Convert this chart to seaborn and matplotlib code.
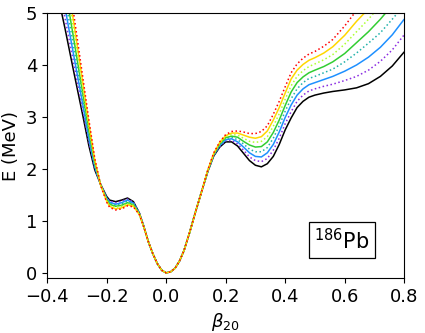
import numpy as np
import pandas as pd
import matplotlib
matplotlib.use("Agg")
import matplotlib.pyplot as plt
import seaborn as sns

# deformation grid
beta = [-0.40, -0.37, -0.34, -0.31, -0.28, -0.26, -0.24, -0.22, -0.20, -0.19,
        -0.17, -0.15, -0.13, -0.11, -0.09, -0.075, -0.06, -0.045, -0.03, -0.015,
        0.00, 0.015, 0.03, 0.045, 0.06, 0.08, 0.10, 0.12, 0.14, 0.16,
        0.18, 0.20, 0.22, 0.24, 0.26, 0.28, 0.30, 0.32, 0.34, 0.36,
        0.38, 0.40, 0.42, 0.44, 0.46, 0.48, 0.50, 0.53, 0.56, 0.60,
        0.64, 0.68, 0.72, 0.76, 0.80]

# energy curves (MeV), bottom to top on the right side
e_black = [6.40, 5.50, 4.70, 3.85, 3.02, 2.45, 1.98, 1.70, 1.47, 1.40,
           1.37, 1.40, 1.44, 1.37, 1.15, 0.89, 0.60, 0.37, 0.18, 0.05,
           0.00, 0.02, 0.09, 0.23, 0.43, 0.80, 1.20, 1.58, 1.95, 2.25,
           2.42, 2.52, 2.52, 2.44, 2.30, 2.16, 2.07, 2.04, 2.10, 2.24,
           2.47, 2.75, 2.98, 3.18, 3.30, 3.38, 3.42, 3.46, 3.49, 3.52,
           3.56, 3.64, 3.78, 3.98, 4.25]
e_purple = [6.71, 5.77, 4.90, 4.01, 3.12, 2.52, 2.01, 1.70, 1.45, 1.38,
            1.35, 1.38, 1.42, 1.36, 1.15, 0.89, 0.60, 0.37, 0.18, 0.05,
            0.00, 0.02, 0.09, 0.23, 0.43, 0.80, 1.20, 1.58, 1.95, 2.26,
            2.43, 2.54, 2.55, 2.48, 2.36, 2.23, 2.16, 2.14, 2.20, 2.36,
            2.59, 2.87, 3.10, 3.30, 3.42, 3.50, 3.54, 3.59, 3.63, 3.70,
            3.78, 3.90, 4.07, 4.29, 4.58]
e_blue = [7.03, 6.04, 5.10, 4.16, 3.23, 2.59, 2.04, 1.69, 1.44, 1.36,
          1.32, 1.35, 1.40, 1.34, 1.14, 0.89, 0.60, 0.37, 0.18, 0.05,
          0.00, 0.02, 0.09, 0.23, 0.43, 0.80, 1.20, 1.58, 1.96, 2.27,
          2.45, 2.56, 2.58, 2.52, 2.42, 2.31, 2.24, 2.23, 2.31, 2.47,
          2.71, 2.99, 3.23, 3.42, 3.54, 3.62, 3.66, 3.72, 3.78, 3.88,
          4.00, 4.15, 4.34, 4.58, 4.88]
e_teal = [7.34, 6.31, 5.30, 4.32, 3.33, 2.66, 2.07, 1.69, 1.42, 1.34,
          1.30, 1.33, 1.38, 1.33, 1.14, 0.89, 0.60, 0.37, 0.18, 0.05,
          0.00, 0.02, 0.09, 0.23, 0.43, 0.80, 1.20, 1.58, 1.96, 2.28,
          2.46, 2.58, 2.61, 2.56, 2.48, 2.38, 2.33, 2.33, 2.41, 2.59,
          2.83, 3.11, 3.35, 3.54, 3.66, 3.74, 3.78, 3.85, 3.92, 4.06,
          4.23, 4.42, 4.62, 4.88, 5.15]
e_green = [7.66, 6.59, 5.50, 4.48, 3.44, 2.74, 2.11, 1.69, 1.41, 1.32,
           1.28, 1.30, 1.35, 1.31, 1.13, 0.88, 0.60, 0.37, 0.18, 0.05,
           0.00, 0.02, 0.09, 0.23, 0.43, 0.80, 1.20, 1.58, 1.97, 2.28,
           2.48, 2.60, 2.63, 2.61, 2.53, 2.46, 2.42, 2.43, 2.52, 2.70,
           2.94, 3.22, 3.48, 3.66, 3.77, 3.85, 3.90, 3.97, 4.06, 4.22,
           4.43, 4.64, 4.88, 5.15, 5.42]
e_lgreen = [7.97, 6.86, 5.70, 4.64, 3.54, 2.81, 2.14, 1.69, 1.39, 1.30,
            1.26, 1.28, 1.33, 1.30, 1.13, 0.88, 0.60, 0.37, 0.18, 0.05,
            0.00, 0.02, 0.09, 0.23, 0.43, 0.80, 1.20, 1.58, 1.97, 2.29,
            2.49, 2.62, 2.66, 2.65, 2.59, 2.53, 2.51, 2.53, 2.62, 2.82,
            3.06, 3.34, 3.60, 3.78, 3.89, 3.97, 4.02, 4.10, 4.20, 4.40,
            4.64, 4.88, 5.15, 5.42, 5.68]
e_gold = [8.29, 7.13, 5.90, 4.79, 3.65, 2.88, 2.17, 1.68, 1.38, 1.28,
          1.23, 1.25, 1.31, 1.28, 1.12, 0.88, 0.60, 0.37, 0.18, 0.05,
          0.00, 0.02, 0.09, 0.23, 0.43, 0.80, 1.20, 1.58, 1.98, 2.30,
          2.51, 2.64, 2.69, 2.69, 2.65, 2.61, 2.59, 2.62, 2.73, 2.94,
          3.18, 3.46, 3.73, 3.90, 4.01, 4.09, 4.14, 4.23, 4.35, 4.57,
          4.84, 5.08, 5.34, 5.63, 5.92]
e_red = [8.60, 7.40, 6.10, 4.95, 3.75, 2.95, 2.20, 1.68, 1.36, 1.26,
         1.21, 1.23, 1.29, 1.27, 1.12, 0.88, 0.60, 0.37, 0.18, 0.05,
         0.00, 0.02, 0.09, 0.23, 0.43, 0.80, 1.20, 1.58, 1.98, 2.31,
         2.52, 2.66, 2.72, 2.73, 2.71, 2.68, 2.68, 2.72, 2.83, 3.05,
         3.30, 3.58, 3.85, 4.02, 4.13, 4.21, 4.26, 4.36, 4.49, 4.75,
         5.05, 5.32, 5.60, 5.90, 6.20]

curves = [e_black, e_purple, e_blue, e_teal, e_green, e_lgreen, e_gold, e_red]
colors = ["black", "blueviolet", "dodgerblue", "lightseagreen",
          "limegreen", "greenyellow", "gold", "red"]
styles = ["-", ":", "-", ":", "-", ":", "-", ":"]

sns.set_style("ticks")
plt.rcParams["font.family"] = ["DejaVu Sans"]
plt.rcParams.update({"text.color": "black", "axes.labelcolor": "black",
                     "xtick.color": "black", "ytick.color": "black",
                     "axes.edgecolor": "black"})

fig, ax = plt.subplots(figsize=(4.25, 3.33), dpi=100)
fig.subplots_adjust(left=0.111, right=0.951, bottom=0.165, top=0.961)

for e, c, ls in zip(curves, colors, styles):
    df = pd.DataFrame({"beta": beta, "E": e})
    sns.lineplot(data=df, x="beta", y="E", color=c, linestyle=ls,
                 linewidth=1.1, ax=ax)

ax.set_xlim(-0.4, 0.8)
ax.set_ylim(-0.1, 5)
ax.set_xticks([-0.4, -0.2, 0.0, 0.2, 0.4, 0.6, 0.8])
ax.set_yticks([0, 1, 2, 3, 4, 5])
ax.tick_params(labelsize=13, direction="out", length=3.5, width=0.8)
ax.set_xlabel(r"$\beta_{20}$", fontsize=13)
ax.set_ylabel("E (MeV)", fontsize=13)
for s in ax.spines.values():
    s.set_linewidth(0.8)

ax.text(0.826, 0.143, r"$^{186}$Pb", transform=ax.transAxes, fontsize=15,
        ha="center", va="center",
        bbox=dict(boxstyle="square,pad=0.25", facecolor="white",
                  edgecolor="black", linewidth=0.9))

fig.savefig("out.png", dpi=100)
